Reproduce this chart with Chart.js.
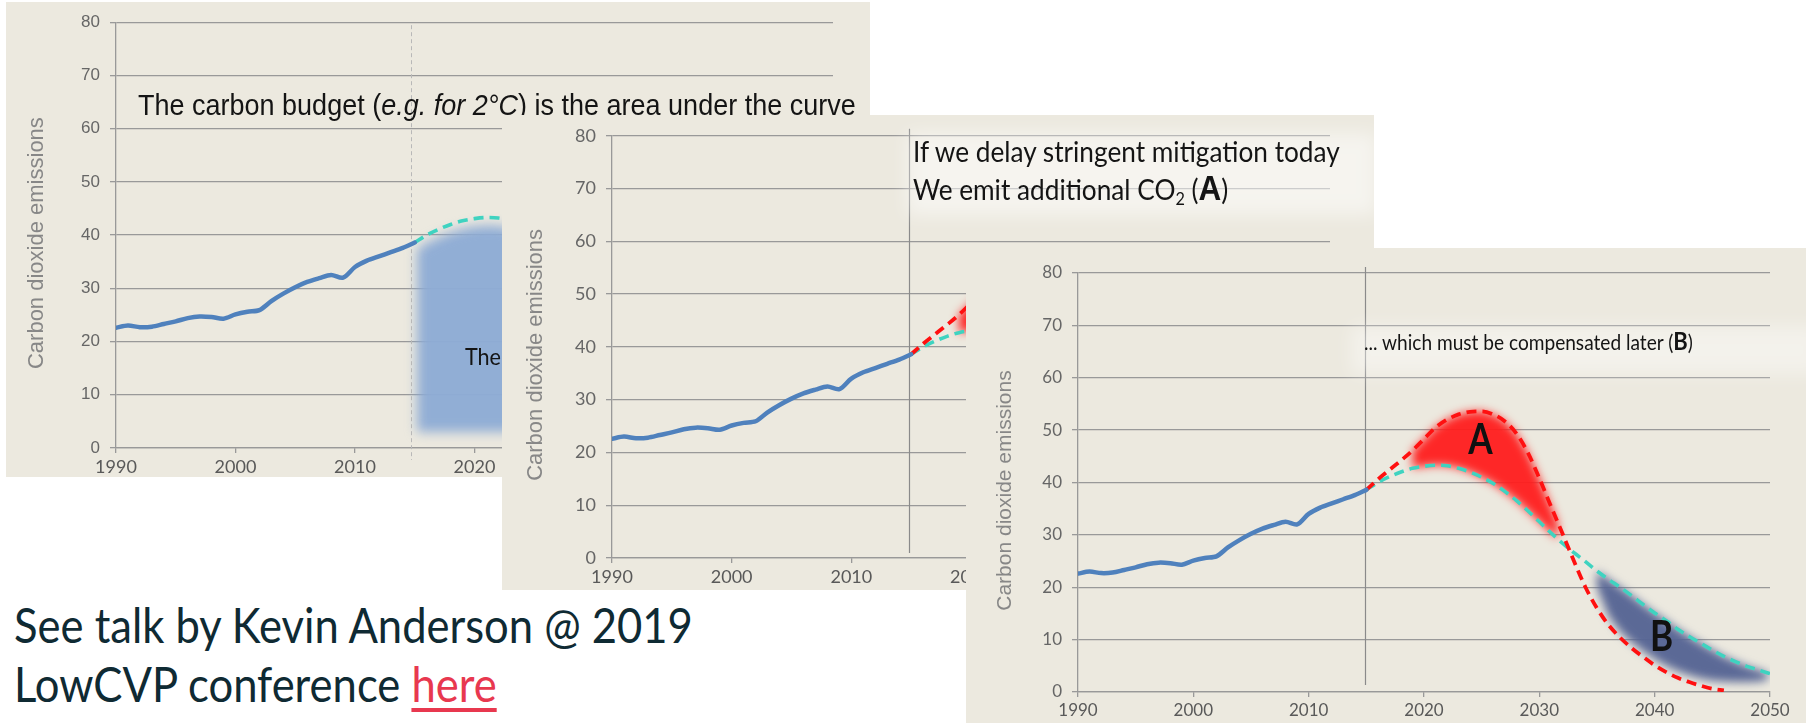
<!DOCTYPE html>
<html>
<head>
<meta charset="utf-8">
<script src="https://cdn.jsdelivr.net/npm/chart.js@4.4.1/dist/chart.umd.min.js"></script>
<style>
  body { margin: 0; width: 1806px; height: 723px; overflow: hidden; background: #fff; position: relative; }
  .panel { position: absolute; background: #ECE9DF; overflow: hidden; }
  .panel canvas { position: absolute; left: 0; top: 0; }
  .note { position: absolute; white-space: nowrap; line-height: 1; color: #141414; }
  .bl { display: inline-block; width: 0; height: 0; }
  .glow { position: absolute; background: rgba(255,255,255,0.5); filter: blur(9px); }
  .calibri { font-family: Lato, "Open Sans", sans-serif; transform: scaleX(0.9); transform-origin: 0 0; }
  .arial { font-family: "Liberation Sans", Arial, sans-serif; }
  b.arial { transform: none; }
</style>
</head>
<body>

<div class="panel" id="p1" style="left:6px;top:2px;width:864px;height:475px">
  <canvas id="c1" width="864" height="475"></canvas>
  <div class="note arial" id="t1" style="font-size:23px;transform:scaleY(1.08);transform-origin:0 100%"><span class="bl"></span>The carbon budget (<i>e.g. for 2°C</i>) is the area under the curve</div>
  <div class="note calibri" id="t1b" style="font-size:24px"><span class="bl"></span>The</div>
</div>

<div class="panel" id="p2" style="left:502px;top:115px;width:872px;height:475px">
  <canvas id="c2" width="872" height="475"></canvas>
  <div class="glow" style="left:405px;top:18px;width:470px;height:82px"></div>
  <div class="note calibri" id="t2a" style="font-size:23px"><span class="bl"></span>If we delay stringent mitigation today</div>
  <div class="note calibri" id="t2b" style="font-size:23px"><span class="bl"></span>We emit additional CO<span style="font-size:0.62em;position:relative;top:0.3em">2</span> (<b class="arial" style="font-size:1.2em">A</b>)</div>
</div>

<div class="panel" id="p3" style="left:966px;top:248px;width:840px;height:475px">
  <canvas id="c3" width="840" height="475"></canvas>
  <div class="glow" style="left:385px;top:78px;width:470px;height:48px;background:rgba(255,255,255,0.4)"></div>
  <div class="note calibri" id="t3" style="font-size:19px"><span class="bl"></span>... which must be compensated later (<b style="font-size:1.15em">B</b>)</div>
</div>

<div class="note calibri" id="s1" style="font-size:40px;color:#0f2a33"><span class="bl"></span>See talk by Kevin Anderson @ 2019</div>
<div class="note calibri" id="s2" style="font-size:40px;color:#0f2a33"><span class="bl"></span>LowCVP conference <span style="color:#e8384f;text-decoration:underline;text-decoration-thickness:0.08em;text-underline-offset:0.12em">here</span></div>

<script>
// historical emissions
const histYears = [1990, 1991, 1992, 1993, 1994, 1995, 1996, 1997, 1998, 1999, 2000, 2001, 2002,
                   2003, 2004, 2005, 2006, 2007, 2008, 2009, 2010, 2011, 2012, 2013, 2014, 2015];
const histEmissions = [22.6, 23.0, 22.7, 22.8, 23.3, 23.8, 24.4, 24.7, 24.6, 24.3, 25.1, 25.6, 25.9,
                       27.6, 29.0, 30.2, 31.2, 31.9, 32.5, 32.0, 34.0, 35.2, 36.0, 36.8, 37.6, 38.6];

// pathways from 2015
const pathYears = [2015, 2016, 2017, 2018, 2019, 2020, 2021, 2022, 2023, 2024, 2025, 2026,
                   2027, 2028, 2029, 2030, 2031, 2032, 2033, 2034, 2035, 2036, 2037, 2038,
                   2039, 2040, 2041, 2042, 2043, 2044, 2045, 2046, 2047, 2048, 2049, 2050];
const budgetPath = [38.6, 40.0, 41.1, 42.0, 42.7, 43.1, 43.3, 43.2, 42.7, 42.0, 41.0, 39.8,
                    38.3, 36.6, 34.6, 32.5, 30.4, 28.4, 26.6, 24.9, 23.1, 21.5, 20.0, 18.4,
                    16.7, 15.1, 13.6, 12.0, 10.6, 9.3, 8.0, 6.8, 5.8, 4.9, 4.2, 3.5];
const delayedPath = [38.6, 40.6, 42.4, 44.2, 46.1, 48.3, 50.5, 52.0, 53.0, 53.5, 53.6, 53.0,
                     51.7, 49.4, 45.7, 40.8, 35.5, 30.3, 25.0, 20.0, 16.0, 12.8, 10.4, 8.4,
                     6.7, 5.1, 3.8, 2.7, 1.9, 1.2, 0.6, 0.3];
// lower edge of the compensation area B, 2035..2050
const shortfallYears = [2035, 2036, 2037, 2038, 2039, 2040, 2041, 2042, 2043, 2044, 2045, 2046, 2047, 2048, 2049, 2050];
const shortfallEdge = [20.0, 14.5, 11.6, 9.5, 7.8, 6.3, 5.0, 4.0, 3.2, 2.6, 2.2, 2.0, 1.9, 1.9, 2.0, 2.4];
const budgetFloor = 3;

const yearTicks = [1990, 2000, 2010, 2020, 2030, 2040, 2050];
const emissionTicks = [0, 10, 20, 30, 40, 50, 60, 70, 80];
const axisTitle = 'Carbon dioxide emissions';

const gridColor = '#999999';

function pts(xs, ys) { return ys.map((v, i) => ({ x: xs[i], y: v })); }

function valueAt(xs, ys, t) {
  if (typeof ys === 'number') return ys;
  let i = Math.floor(t - xs[0]);
  i = Math.max(0, Math.min(i, ys.length - 2));
  return ys[i] + (ys[i + 1] - ys[i]) * (t - xs[i]);
}

function drawBand(ctx, x, y, b) {
  const up = [], lo = [];
  const inset = b.inset || 0;
  for (let t = b.from; t <= b.to + 1e-6; t += 0.2) {
    up.push([x.getPixelForValue(t), y.getPixelForValue(valueAt(b.upX, b.up, t) - inset)]);
    lo.push([x.getPixelForValue(t), y.getPixelForValue(valueAt(b.loX, b.lo, t))]);
  }
  ctx.save();
  ctx.filter = 'blur(' + b.blur + 'px)';
  ctx.fillStyle = b.color;
  ctx.beginPath();
  up.forEach((p, i) => i ? ctx.lineTo(p[0], p[1]) : ctx.moveTo(p[0], p[1]));
  lo.reverse().forEach(p => ctx.lineTo(p[0], p[1]));
  ctx.closePath();
  ctx.fill();
  ctx.restore();
}

function overlay(cfg) {
  return {
    id: 'overlay',
    beforeDatasetsDraw(chart) {
      const { ctx, chartArea: a, scales: { x, y } } = chart;
      ctx.save();
      ctx.beginPath();
      ctx.rect(a.left, a.top, a.width, a.height + 2);
      ctx.clip();
      (cfg.bands || []).forEach(b => drawBand(ctx, x, y, b));
      ctx.restore();
      const m = cfg.marker;
      const px = Math.round(x.getPixelForValue(m.year)) + 0.5;
      ctx.save();
      ctx.strokeStyle = m.color;
      ctx.lineWidth = m.width;
      ctx.setLineDash(m.dash || []);
      ctx.beginPath();
      ctx.moveTo(px, a.top + m.top);
      ctx.lineTo(px, a.bottom + m.bottom);
      ctx.stroke();
      ctx.restore();
    },
    afterDatasetsDraw(chart) {
      const { ctx, scales: { x, y } } = chart;
      (cfg.labels || []).forEach(l => {
        ctx.save();
        ctx.translate(x.getPixelForValue(l.x), y.getPixelForValue(l.y));
        ctx.scale(0.88, 1.05);
        ctx.font = 'bold 40px Lato, sans-serif';
        ctx.fillStyle = '#111';
        ctx.textAlign = 'center';
        ctx.textBaseline = 'middle';
        ctx.fillText(l.text, 0, 0);
        ctx.restore();
      });
      const a = chart.chartArea;
      ctx.save();
      ctx.translate(cfg.titleX, (a.top + a.bottom) / 2 + 8);
      ctx.rotate(-Math.PI / 2);
      ctx.font = cfg.titleSize + 'px "Liberation Sans", Arial, sans-serif';
      ctx.fillStyle = '#878787';
      ctx.textAlign = 'center';
      ctx.textBaseline = 'middle';
      ctx.fillText(axisTitle, 0, 0);
      ctx.restore();
    }
  };
}

function makeChart(id, p) {
  const ds = [{
    data: pts(histYears, histEmissions),
    borderColor: '#4f81bd', borderWidth: 4.5, tension: 0.3, pointRadius: 0,
    borderCapStyle: 'round', borderJoinStyle: 'round'
  }];
  if (p.delay) {
    ds.push({
      data: pts(pathYears, delayedPath),
      borderColor: '#ff1010', borderWidth: 3.8, borderDash: [10, 6],
      cubicInterpolationMode: 'monotone', pointRadius: 0
    });
  }
  ds.push({
    data: pts(pathYears, budgetPath),
    borderColor: '#3fd3c0', borderWidth: 3.6, borderDash: [10, 6],
    cubicInterpolationMode: 'monotone', pointRadius: 0
  });

  return new Chart(document.getElementById(id), {
    type: 'line',
    data: { datasets: ds },
    options: {
      responsive: false,
      animation: false,
      devicePixelRatio: 1,
      layout: { padding: { top: p.top, right: p.right, left: 0, bottom: 0 } },
      plugins: { legend: { display: false }, tooltip: { enabled: false } },
      scales: {
        x: {
          type: 'linear', min: 1990, max: 2050,
          afterBuildTicks: s => { s.ticks = yearTicks.map(v => ({ value: v })); },
          afterFit: s => { s.height = p.xh; },
          grid: { drawOnChartArea: false, tickLength: 5, color: gridColor, lineWidth: 1.3 },
          border: { color: gridColor, width: 1.3 },
          ticks: { color: '#595959', padding: 3, maxRotation: 0, autoSkip: false,
                   font: { family: 'Lato', size: p.xFont }, callback: v => String(v) }
        },
        y: {
          min: 0, max: 80,
          afterBuildTicks: s => { s.ticks = emissionTicks.map(v => ({ value: v })); },
          afterFit: s => { s.width = p.yw; },
          grid: { color: gridColor, lineWidth: 1.3, tickLength: 6 },
          border: { color: gridColor, width: 1.3 },
          ticks: { color: '#666', padding: 10, font: { family: p.yFamily, size: p.yFont },
                   callback: v => String(v) }
        }
      }
    },
    plugins: [overlay(p.overlay)]
  });
}

const bandA = { from: 2019, to: 2031.7, upX: pathYears, up: delayedPath, loX: pathYears, lo: budgetPath,
                color: 'rgba(255,28,28,0.95)', blur: 5 };
const bandB = { from: 2035, to: 2049.8, upX: pathYears, up: budgetPath, loX: shortfallYears, lo: shortfallEdge,
                color: 'rgba(86,100,148,0.97)', blur: 5 };

makeChart('c1', {
  top: 13, right: 37, xh: 29, yw: 110, xFont: 18, yFont: 17, yFamily: 'Liberation Sans', delay: false,
  overlay: {
    titleX: 31, titleSize: 22,
    marker: { year: 2014.7, color: '#b8b8b8', width: 1, dash: [4, 3], top: 3, bottom: 12 },
    bands: [{ from: 2015.2, to: 2050, upX: pathYears, up: budgetPath, loX: pathYears, lo: budgetFloor,
              inset: 1.5, color: 'rgba(141,171,213,0.97)', blur: 6 }]
  }
});

makeChart('c2', {
  top: 12, right: 44, xh: 32, yw: 110, xFont: 18, yFont: 18, yFamily: 'Lato', delay: true,
  overlay: {
    titleX: 34, titleSize: 22,
    marker: { year: 2014.85, color: '#8a8a8a', width: 1.2, top: -7, bottom: -5 },
    bands: [bandA, bandB]
  }
});

makeChart('c3', {
  top: 25, right: 36, xh: 31, yw: 112, xFont: 17, yFont: 17, yFamily: 'Lato', delay: true,
  overlay: {
    titleX: 39, titleSize: 21,
    marker: { year: 2014.85, color: '#8a8a8a', width: 1.2, top: -6, bottom: -7 },
    bands: [bandA, bandB],
    labels: [{ text: 'A', x: 2024.9, y: 48.1 }, { text: 'B', x: 2040.6, y: 10.5 }]
  }
});

// text placement: left, baseline (in parent coords), and optional fitted width
function place(id, x, baseline, width) {
  const el = document.getElementById(id);
  el.style.left = x + 'px';
  el.style.top = '0px';
  if (width) {
    const w = el.getBoundingClientRect().width;
    el.style.fontSize = (parseFloat(getComputedStyle(el).fontSize) * width / w) + 'px';
  }
  const parentTop = el.offsetParent.getBoundingClientRect().top;
  const cur = el.querySelector('.bl').getBoundingClientRect().top - parentTop;
  el.style.top = (parseFloat(el.style.top) + baseline - cur) + 'px';
  return parseFloat(el.style.fontSize);
}

place('t1', 132, 113, 718);
place('t1b', 459, 363);
const fs2 = place('t2a', 411, 47, 427);
document.getElementById('t2b').style.fontSize = fs2 + 'px';
place('t2b', 411, 85);
place('t3', 398, 102, 329);
const fs4 = place('s1', 14, 643, 679);
document.getElementById('s2').style.fontSize = fs4 + 'px';
place('s2', 14, 702);
</script>
</body>
</html>
